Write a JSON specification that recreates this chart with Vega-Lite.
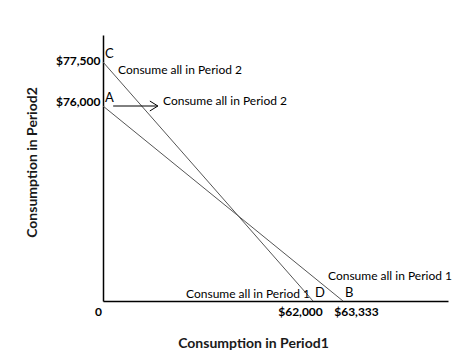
{
  "$schema": "https://vega.github.io/schema/vega-lite/v6.json",
  "width": 345,
  "height": 266,
  "autosize": {"type": "none"},
  "padding": {"left": 103, "top": 35, "right": 5, "bottom": 54},
  "background": "white",
  "config": {"view": {"stroke": null}, "font": "Lato"},
  "datasets": {
    "points": [
      {"point": "A", "line": "AB", "c1": 0, "c2": 76000, "note": "Consume all in Period 2"},
      {"point": "B", "line": "AB", "c1": 63333, "c2": 0, "note": "Consume all in Period 1"},
      {"point": "C", "line": "CD", "c1": 0, "c2": 77500, "note": "Consume all in Period 2"},
      {"point": "D", "line": "CD", "c1": 62000, "c2": 0, "note": "Consume all in Period 1"}
    ],
    "arrow": [{"c1": 3000, "c1end": 16200, "c2": 76000}]
  },
  "layer": [
    {
      "data": {"name": "points"},
      "mark": {"type": "line", "color": "#555555", "strokeWidth": 1},
      "encoding": {
        "x": {
          "field": "c1", "type": "quantitative",
          "scale": {"domain": [0, 62000, 63333, 70000], "range": [0, 210, 240, 345], "nice": false, "zero": false},
          "axis": {
            "values": [0, 62000, 63333],
            "labelExpr": "datum.value == 0 ? '0' : format(datum.value, '$,.0f')",
            "title": "Consumption in Period1",
            "titleFont": "Lato", "titleFontWeight": "bold", "titleFontSize": 14, "titleColor": "#1a1a1a",
            "titleX": 150, "titleY": 35, "titleAlign": "center", "titleBaseline": "top",
            "grid": false, "ticks": false, "tickSize": 0,
            "domainColor": "black", "domainWidth": 1.5,
            "labelFont": "Lato", "labelFontWeight": "bold", "labelFontSize": 12, "labelColor": "black",
            "labelPadding": 5, "labelOverlap": false, "labelFlush": false, "labelAlign": "center",
            "labelOffset": {"condition": [{"test": "datum.value == 0", "value": -5}, {"test": "datum.value < 63000", "value": -13}], "value": 13}
          }
        },
        "y": {
          "field": "c2", "type": "quantitative",
          "scale": {"domain": [0, 76000, 77500, 80000], "range": [266, 71, 27, 0], "nice": false, "zero": false},
          "axis": {
            "values": [76000, 77500],
            "format": "$,.0f",
            "title": "Consumption in Period2",
            "titleFont": "Lato", "titleFontWeight": "bold", "titleFontSize": 14, "titleColor": "#1a1a1a",
            "titleX": -64, "titleY": 127, "titleAlign": "center", "titleAngle": -90,
            "grid": false, "ticks": false, "tickSize": 0,
            "domainColor": "black", "domainWidth": 1.5,
            "labelFont": "Lato", "labelFontWeight": "bold", "labelFontSize": 12, "labelColor": "black",
            "labelPadding": 3,
            "labelOffset": {"condition": {"test": "datum.value > 77000", "value": -2}, "value": -5}
          }
        },
        "detail": {"field": "line", "type": "nominal"}
      }
    },
    {
      "data": {"name": "points"},
      "mark": {"type": "text", "align": "left", "baseline": "middle", "dx": 2, "dy": -8, "fontSize": 13, "font": "Lato", "color": "black"},
      "encoding": {
        "x": {"field": "c1", "type": "quantitative"},
        "y": {"field": "c2", "type": "quantitative"},
        "text": {"field": "point"}
      }
    },
    {
      "data": {"name": "points"},
      "transform": [{"filter": "datum.point == 'C'"}],
      "mark": {"type": "text", "align": "left", "baseline": "middle", "dx": 15, "dy": 8, "fontSize": 12, "font": "Lato", "color": "black"},
      "encoding": {
        "x": {"field": "c1", "type": "quantitative"},
        "y": {"field": "c2", "type": "quantitative"},
        "text": {"field": "note"}
      }
    },
    {
      "data": {"name": "points"},
      "transform": [{"filter": "datum.point == 'A'"}],
      "mark": {"type": "text", "align": "left", "baseline": "middle", "dx": 60, "dy": -5, "fontSize": 12, "font": "Lato", "color": "black"},
      "encoding": {
        "x": {"field": "c1", "type": "quantitative"},
        "y": {"field": "c2", "type": "quantitative"},
        "text": {"field": "note"}
      }
    },
    {
      "data": {"name": "points"},
      "transform": [{"filter": "datum.point == 'D'"}],
      "mark": {"type": "text", "align": "right", "baseline": "middle", "dx": -3, "dy": -7, "fontSize": 12, "font": "Lato", "color": "black"},
      "encoding": {
        "x": {"field": "c1", "type": "quantitative"},
        "y": {"field": "c2", "type": "quantitative"},
        "text": {"field": "note"}
      }
    },
    {
      "data": {"name": "points"},
      "transform": [{"filter": "datum.point == 'B'"}],
      "mark": {"type": "text", "align": "left", "baseline": "middle", "dx": -15, "dy": -25, "fontSize": 12, "font": "Lato", "color": "black"},
      "encoding": {
        "x": {"field": "c1", "type": "quantitative"},
        "y": {"field": "c2", "type": "quantitative"},
        "text": {"field": "note"}
      }
    },
    {
      "data": {"name": "arrow"},
      "mark": {"type": "rule", "color": "black", "strokeWidth": 1},
      "encoding": {
        "x": {"field": "c1", "type": "quantitative"},
        "x2": {"field": "c1end"},
        "y": {"field": "c2", "type": "quantitative"}
      }
    },
    {
      "data": {"name": "arrow"},
      "mark": {"type": "point", "shape": "M -1 -0.62 L 0 0 L -1 0.62", "filled": false, "stroke": "black", "strokeWidth": 1, "opacity": 1, "size": 256},
      "encoding": {
        "x": {"field": "c1end", "type": "quantitative"},
        "y": {"field": "c2", "type": "quantitative"}
      }
    }
  ]
}
